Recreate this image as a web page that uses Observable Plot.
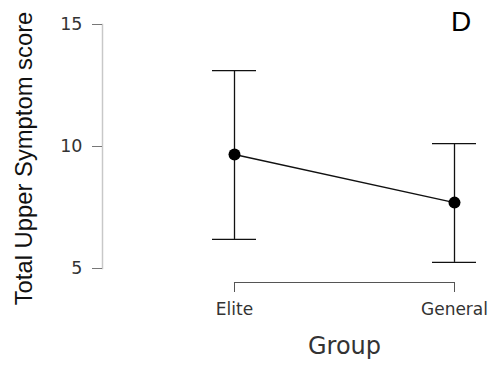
<!DOCTYPE html>
<html>
<head>
<meta charset="utf-8">
<script src="https://cdn.jsdelivr.net/npm/d3@7"></script>
<script src="https://cdn.jsdelivr.net/npm/@observablehq/plot@0.6"></script>
<style>
  html, body { margin: 0; padding: 0; background: #fff; }
</style>
</head>
<body>
<div id="chart"></div>
<script>
const groups = ["Elite", "General"];
const means = [9.67, 7.70];
const lower = [6.19, 5.25];
const upper = [13.11, 10.12];
const yTicks = [5, 10, 15];
const yLabel = "Total Upper Symptom score";
const xLabel = "Group";
const panelLabel = "D";

const data = groups.map((g, i) => ({group: g, mean: means[i], lo: lower[i], hi: upper[i]}));

const capOpts = {x1: "group", x2: "group", stroke: "#111", strokeWidth: 1.3, insetLeft: -22, insetRight: -22};

const chart = Plot.plot({
  width: 496,
  height: 367,
  marginLeft: 102,
  marginRight: 42,
  marginTop: 24,
  marginBottom: 99,
  style: {background: "#fff", overflow: "visible"},
  x: {type: "point", domain: groups, range: [234, 454], padding: 0, axis: null},
  y: {domain: [5, 15], axis: null},
  marks: [
    Plot.frame({anchor: "left", stroke: "#c8c8c8", strokeWidth: 1.5}),
    Plot.axisY({ticks: yTicks, tickSize: 10, tickPadding: 10, stroke: "#777", fill: "#333",
      fontSize: 17.5, fontFamily: "DejaVu Sans", label: null, tickFormat: d3.format("d")}),
    Plot.line(groups, {x: d => d, y: () => 5, dy: 14, stroke: "#555", strokeWidth: 1.2}),
    Plot.axisX({tickSize: 10, tickPadding: 10, dy: 14, stroke: "#555", fill: "#333",
      fontSize: 17, fontFamily: "DejaVu Sans", label: null}),
    Plot.ruleX(data, {x: "group", y1: "lo", y2: "hi", stroke: "#111", strokeWidth: 1.3}),
    Plot.ruleY(data, {...capOpts, y: "lo"}),
    Plot.ruleY(data, {...capOpts, y: "hi"}),
    Plot.line(data, {x: "group", y: "mean", stroke: "#111", strokeWidth: 1.4}),
    Plot.dot(data, {x: "group", y: "mean", r: 6, fill: "#000", stroke: null}),
    Plot.text([yLabel], {frameAnchor: "left", rotate: -90, dx: -78, dy: 12, text: d => d,
      fontSize: 23.8, fontFamily: "Liberation Sans", fill: "#111", textAnchor: "middle", lineAnchor: "middle"}),
    Plot.text([xLabel], {frameAnchor: "bottom", dx: 66, dy: 78, text: d => d,
      fontSize: 24, fontFamily: "DejaVu Sans", fill: "#333", textAnchor: "middle", lineAnchor: "middle"}),
    Plot.text([panelLabel], {frameAnchor: "top-right", dx: 6.5, dy: -2, text: d => d,
      fontSize: 28, fontFamily: "Liberation Sans", fill: "#000", textAnchor: "middle", lineAnchor: "middle"})
  ]
});
document.getElementById("chart").appendChild(chart);
</script>
</body>
</html>
